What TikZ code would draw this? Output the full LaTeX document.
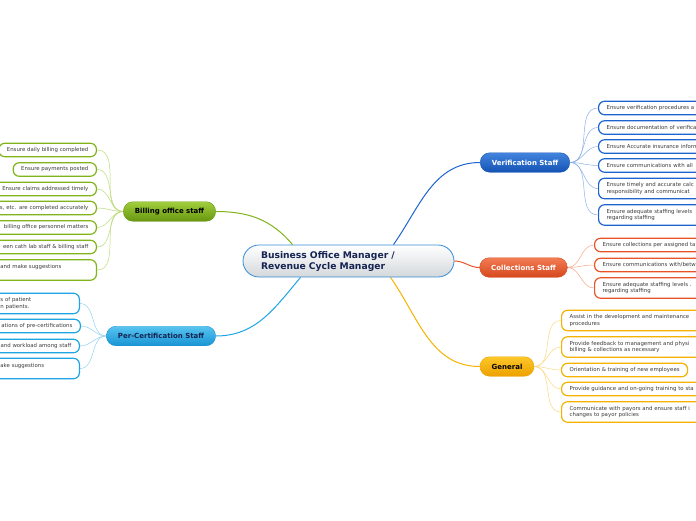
\documentclass[tikz,border=0pt]{standalone}
\usepackage{fontspec}
\setmainfont{DejaVu Sans}
\usepackage{xcolor}
\usetikzlibrary{positioning,calc,backgrounds}
\definecolor{BossBlue}{RGB}{52,140,214}
\definecolor{BossGray}{RGB}{212,216,219}
\definecolor{BossText}{RGB}{22,36,82}
\definecolor{LeafText}{RGB}{60,60,60}
\definecolor{BillGreen}{RGB}{128,180,26}
\definecolor{BillTop}{RGB}{160,206,60}
\definecolor{BillBot}{RGB}{104,150,16}
\definecolor{BillLine}{RGB}{186,218,120}
\definecolor{CertBlue}{RGB}{30,165,228}
\definecolor{CertTop}{RGB}{88,196,240}
\definecolor{CertBot}{RGB}{24,148,212}
\definecolor{CertLine}{RGB}{150,210,242}
\definecolor{VerBlue}{RGB}{30,100,206}
\definecolor{VerTop}{RGB}{66,132,222}
\definecolor{VerBot}{RGB}{20,82,180}
\definecolor{VerLine}{RGB}{140,176,232}
\definecolor{ColRed}{RGB}{232,84,40}
\definecolor{ColTop}{RGB}{242,124,84}
\definecolor{ColBot}{RGB}{214,72,30}
\definecolor{ColLine}{RGB}{246,168,136}
\definecolor{GenYellow}{RGB}{246,178,0}
\definecolor{GenTop}{RGB}{252,200,40}
\definecolor{GenBot}{RGB}{236,160,0}
\definecolor{GenLine}{RGB}{250,214,128}
\begin{document}
\begin{tikzpicture}[x=1pt,y=-1pt,
        % Central topic: pill shape, white to gray
        boss/.style={
            draw=BossBlue, line width=0.8pt, rounded corners=16pt,
            top color=white, bottom color=BossGray,
            minimum width=211pt, minimum height=32pt, inner sep=0pt,
            text width=175pt, align=left, text=BossText,
            font=\bfseries\fontsize{9.2}{11}\selectfont
        },
        % Main branches
        branch/.style={
            rounded corners=9.5pt, minimum height=19.5pt,
            inner xsep=11.5pt, inner ysep=0pt,
            font=\bfseries\fontsize{7}{8}\selectfont
        },
        % Sub topics: white boxes with coloured frame
        leaf/.style={
            fill=white, line width=1.2pt, rounded corners=6pt,
            minimum height=13.5pt, inner xsep=8pt, inner ysep=2pt,
            text=LeafText, font=\fontsize{5.4}{6.8}\selectfont
        },
        twoline/.style={minimum height=20.5pt},
        cutleft/.style={anchor=east, text width=150pt, align=right},
        cutright/.style={anchor=west, text width=150pt, align=left},
        mainline/.style={line width=1pt},
        subline/.style={line width=0.5pt}
    ]

    \useasboundingbox (0,0) rectangle (696,520);
    \clip (0,0) rectangle (696,520);

    % --- ROOT ---
    \node[boss] (boss) at (348.5,261) {Business Office Manager /\\Revenue Cycle Manager};

    % --- BRANCHES ---
    \node[branch, draw=BillBot, top color=BillTop, bottom color=BillBot, text=black] (bill) at (169.5,211.5) {Billing office staff};
    \node[branch, draw=CertBot, top color=CertTop, bottom color=CertBot, text=BossText] (cert) at (161,336) {Per-Certification Staff};
    \node[branch, draw=VerBot, top color=VerTop, bottom color=VerBot, text=white] (ver) at (525,162.5) {Verification Staff};
    \node[branch, draw=ColBot, top color=ColTop, bottom color=ColBot, text=white] (col) at (523.5,267.5) {Collections Staff};
    \node[branch, draw=GenBot, top color=GenTop, bottom color=GenBot, text=black] (gen) at (507,366.5) {General};

    % --- Billing office staff ---
    \node[leaf, draw=BillGreen, anchor=east] (b1) at (97,150) {Ensure daily billing completed};
    \node[leaf, draw=BillGreen, anchor=east] (b2) at (97,169.5) {Ensure payments posted};
    \node[leaf, draw=BillGreen, cutleft] (b3) at (97,189) {Ensure claims addressed timely};
    \node[leaf, draw=BillGreen, cutleft] (b4) at (97,208) {s, etc. are completed accurately};
    \node[leaf, draw=BillGreen, cutleft] (b5) at (97,227.5) {billing office personnel matters};
    \node[leaf, draw=BillGreen, cutleft] (b6) at (97,247) {een cath lab staff \& billing staff};
    \node[leaf, draw=BillGreen, twoline, anchor=east, text width=88pt, align=left] (b7) at (97,270) {and make suggestions\\\mbox{}};

    % --- Per-Certification Staff ---
    \node[leaf, draw=CertBlue, twoline, anchor=east, text width=71pt, align=left] (c1) at (80,303.5) {s of patient\\n patients.};
    \node[leaf, draw=CertBlue, cutleft] (c2) at (81,326) {ations of pre-certifications};
    \node[leaf, draw=CertBlue, cutleft] (c3) at (80,346) {and workload among staff};
    \node[leaf, draw=CertBlue, twoline, anchor=east, text width=71pt, align=left] (c4) at (80,368.5) {ake suggestions\\\mbox{}};

    % --- Verification Staff ---
    \node[leaf, draw=VerBlue, cutright] (v1) at (598,108) {Ensure verification procedures a};
    \node[leaf, draw=VerBlue, cutright] (v2) at (598,127.5) {Ensure documentation of verifica};
    \node[leaf, draw=VerBlue, cutright] (v3) at (598,146.5) {Ensure Accurate insurance inform};
    \node[leaf, draw=VerBlue, cutright] (v4) at (598,165.5) {Ensure communications with all};
    \node[leaf, draw=VerBlue, cutright, twoline] (v5) at (598,188.5) {Ensure timely and accurate calc\\responsibility and communicat};
    \node[leaf, draw=VerBlue, cutright, twoline] (v6) at (598,215) {Ensure adequate staffing levels\\regarding staffing};

    % --- Collections Staff ---
    \node[leaf, draw=ColRed, cutright] (k1) at (594,245) {Ensure collections per assigned ta};
    \node[leaf, draw=ColRed, cutright] (k2) at (594,265) {Ensure communications with/betw};
    \node[leaf, draw=ColRed, cutright, twoline] (k3) at (594,288) {Ensure adequate staffing levels .\\regarding staffing};

    % --- General ---
    \node[leaf, draw=GenYellow, cutright, twoline] (g1) at (561,320.5) {Assist in the development and maintenance\\procedures};
    \node[leaf, draw=GenYellow, cutright, twoline] (g2) at (561,347) {Provide feedback to management and physi\\billing \& collections as necessary};
    \node[leaf, draw=GenYellow, anchor=west] (g3) at (561,370) {Orientation \& training of new employees};
    \node[leaf, draw=GenYellow, cutright] (g4) at (561,389) {Provide guidance and on-going training to sta};
    \node[leaf, draw=GenYellow, cutright, twoline] (g5) at (561,412) {Communicate with payors and ensure staff i\\changes to payor policies};

    % --- CONNECTORS ---
    \begin{scope}[on background layer]
        \draw[mainline, BillGreen] ([xshift=-56pt]boss.north) to[out=130,in=0] (bill.east);
        \draw[mainline, CertBlue] ([xshift=-48pt]boss.south) to[out=-130,in=0] (cert.east);
        \draw[mainline, VerBlue] ([xshift=45pt]boss.north) to[out=55,in=180] (ver.west);
        \draw[mainline, ColRed] (boss.east) to[out=0,in=180] (col.west);
        \draw[mainline, GenYellow] ([xshift=42pt]boss.south) to[out=-55,in=180] (gen.west);
        \foreach \n in {b1,b2,b3,b4,b5,b6,b7}
            \draw[subline, BillLine] (bill.west) to[out=180,in=0] (\n.east);
        \foreach \n in {c1,c2,c3,c4}
            \draw[subline, CertLine] (cert.west) to[out=180,in=0] (\n.east);
        \foreach \n in {v1,v2,v3,v4,v5,v6}
            \draw[subline, VerLine] (ver.east) to[out=0,in=180] (\n.west);
        \foreach \n in {k1,k2,k3}
            \draw[subline, ColLine] (col.east) to[out=0,in=180] (\n.west);
        \foreach \n in {g1,g2,g3,g4,g5}
            \draw[subline, GenLine] (gen.east) to[out=0,in=180] (\n.west);
    \end{scope}

\end{tikzpicture}
\end{document}
